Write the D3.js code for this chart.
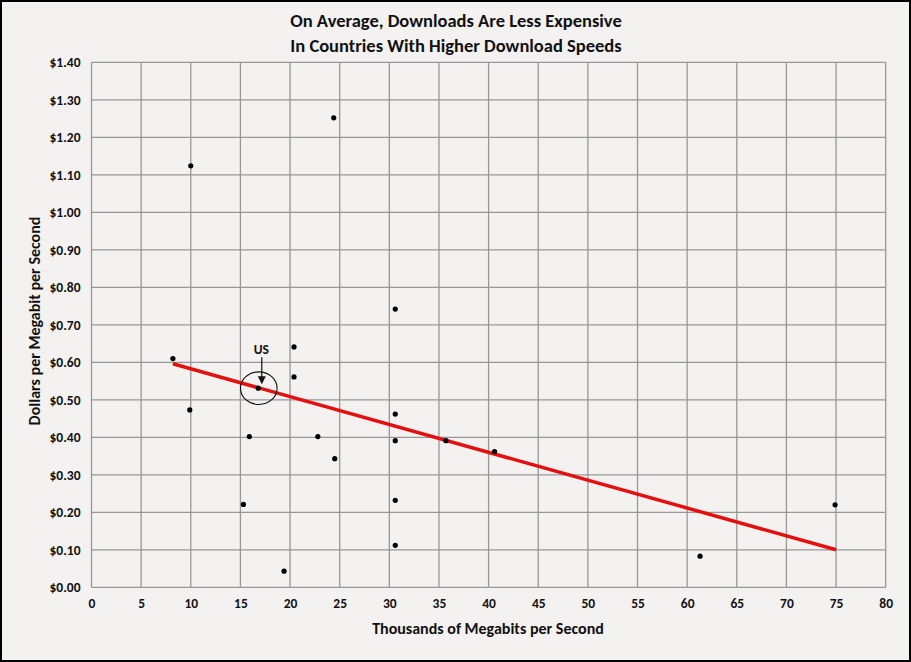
<!DOCTYPE html>
<html><head><meta charset="utf-8">
<script src="https://cdn.jsdelivr.net/npm/d3@7"></script>
<style>
html,body{margin:0;padding:0;background:#f4f2f1;}
svg{display:block;}
text{font-family:Carlito,"Liberation Sans Narrow",Lato,"Liberation Sans",Arial,sans-serif;font-weight:bold;fill:#111;}
</style></head>
<body>
<svg id="chart" width="911" height="662"></svg>
<script>
const titleLines = ["On Average, Downloads Are Less Expensive", "In Countries With Higher Download Speeds"];
const xTitle = "Thousands of Megabits per Second";
const yTitle = "Dollars per Megabit per Second";
const speeds = [8.2, 10.0, 9.9, 24.4, 20.4, 20.4, 16.8, 15.9, 22.8, 24.5, 15.3, 19.4, 30.6, 30.6, 30.6, 30.6, 30.6, 35.7, 40.6, 61.3, 74.9];
const prices = [0.61, 1.124, 0.473, 1.252, 0.641, 0.561, 0.531, 0.402, 0.402, 0.343, 0.221, 0.043, 0.742, 0.462, 0.391, 0.232, 0.112, 0.391, 0.362, 0.083, 0.22];
const trendX = [8.2, 75];
const trendY = [0.596, 0.10];
const xTicks = d3.range(0, 81, 5);
const yTicks = d3.range(0, 15).map(i => i / 10);
const usPoint = {label: "US", x: 16.8, y: 0.531};

const svg = d3.select("#chart");
const W = 911, H = 662;
const m = {left: 91.5, right: 885.7, top: 62.3, bottom: 587.3};

svg.append("rect").attr("x", 1).attr("y", 1).attr("width", W - 2).attr("height", H - 2)
  .attr("fill", "#f4f2f1").attr("stroke", "#000").attr("stroke-width", 2);

const x = d3.scaleLinear().domain([0, 80]).range([m.left, m.right]);
const y = d3.scaleLinear().domain([0, 1.4]).range([m.bottom, m.top]);

// grid
const g = svg.append("g");
g.selectAll("line.v").data(xTicks).join("line")
  .attr("x1", d => x(d)).attr("x2", d => x(d)).attr("y1", m.top).attr("y2", m.bottom)
  .attr("stroke", "#979797").attr("stroke-width", 1.3);
g.selectAll("line.h").data(yTicks).join("line")
  .attr("y1", d => y(d)).attr("y2", d => y(d)).attr("x1", m.left).attr("x2", m.right)
  .attr("stroke", "#979797").attr("stroke-width", 1.3);

// axes labels
const xAxis = d3.axisBottom(x).tickValues(xTicks).tickSize(0).tickPadding(11).tickFormat(d3.format("d"));
const xa = svg.append("g").attr("transform", `translate(0,${m.bottom})`).call(xAxis);
xa.select(".domain").remove();
xa.attr("font-family", null).attr("font-size", null);
xa.selectAll("text").attr("font-size", 13.5).attr("fill", "#111");

const yAxis = d3.axisLeft(y).tickValues(yTicks).tickSize(0).tickPadding(11).tickFormat(d => "$" + d.toFixed(2));
const ya = svg.append("g").attr("transform", `translate(${m.left},0)`).call(yAxis);
ya.select(".domain").remove();
ya.attr("font-family", null).attr("font-size", null);
ya.selectAll("text").attr("font-size", 13.5).attr("fill", "#111");

// titles
svg.append("text").attr("x", 456).attr("y", 26.5).attr("text-anchor", "middle").attr("font-size", 18.5).text(titleLines[0]);
svg.append("text").attr("x", 456).attr("y", 51.5).attr("text-anchor", "middle").attr("font-size", 18.5).text(titleLines[1]);
svg.append("text").attr("x", 488).attr("y", 634).attr("text-anchor", "middle").attr("font-size", 16).text(xTitle);
svg.append("text").attr("transform", `translate(40,${321}) rotate(-90)`)
  .attr("text-anchor", "middle").attr("font-size", 16).text(yTitle);

// trend line
svg.append("line").attr("x1", x(trendX[0])).attr("y1", y(trendY[0])).attr("x2", x(trendX[1])).attr("y2", y(trendY[1]))
  .attr("stroke", "#e41010").attr("stroke-width", 3.5);

// points
svg.selectAll("circle.pt").data(speeds.map((s, i) => [s, prices[i]])).join("circle")
  .attr("cx", d => x(d[0])).attr("cy", d => y(d[1])).attr("r", 2.6).attr("fill", "#000");

// US annotation
const ux = x(usPoint.x), uy = y(usPoint.y);
svg.append("ellipse").attr("cx", ux + 0.5).attr("cy", uy).attr("rx", 18.3).attr("ry", 16.3)
  .attr("fill", "none").attr("stroke", "#111").attr("stroke-width", 1.1);
svg.append("text").attr("x", ux + 3).attr("y", uy - 34).attr("text-anchor", "middle").attr("font-size", 13.5).text(usPoint.label);
svg.append("line").attr("x1", ux + 3.5).attr("x2", ux + 3.5).attr("y1", uy - 31).attr("y2", uy - 10)
  .attr("stroke", "#111").attr("stroke-width", 1.2);
svg.append("path").attr("d", `M${ux + 3.5 - 4},${uy - 12} L${ux + 3.5 + 4},${uy - 12} L${ux + 3.5},${uy - 4} Z`).attr("fill", "#111");
</script>
</body></html>
